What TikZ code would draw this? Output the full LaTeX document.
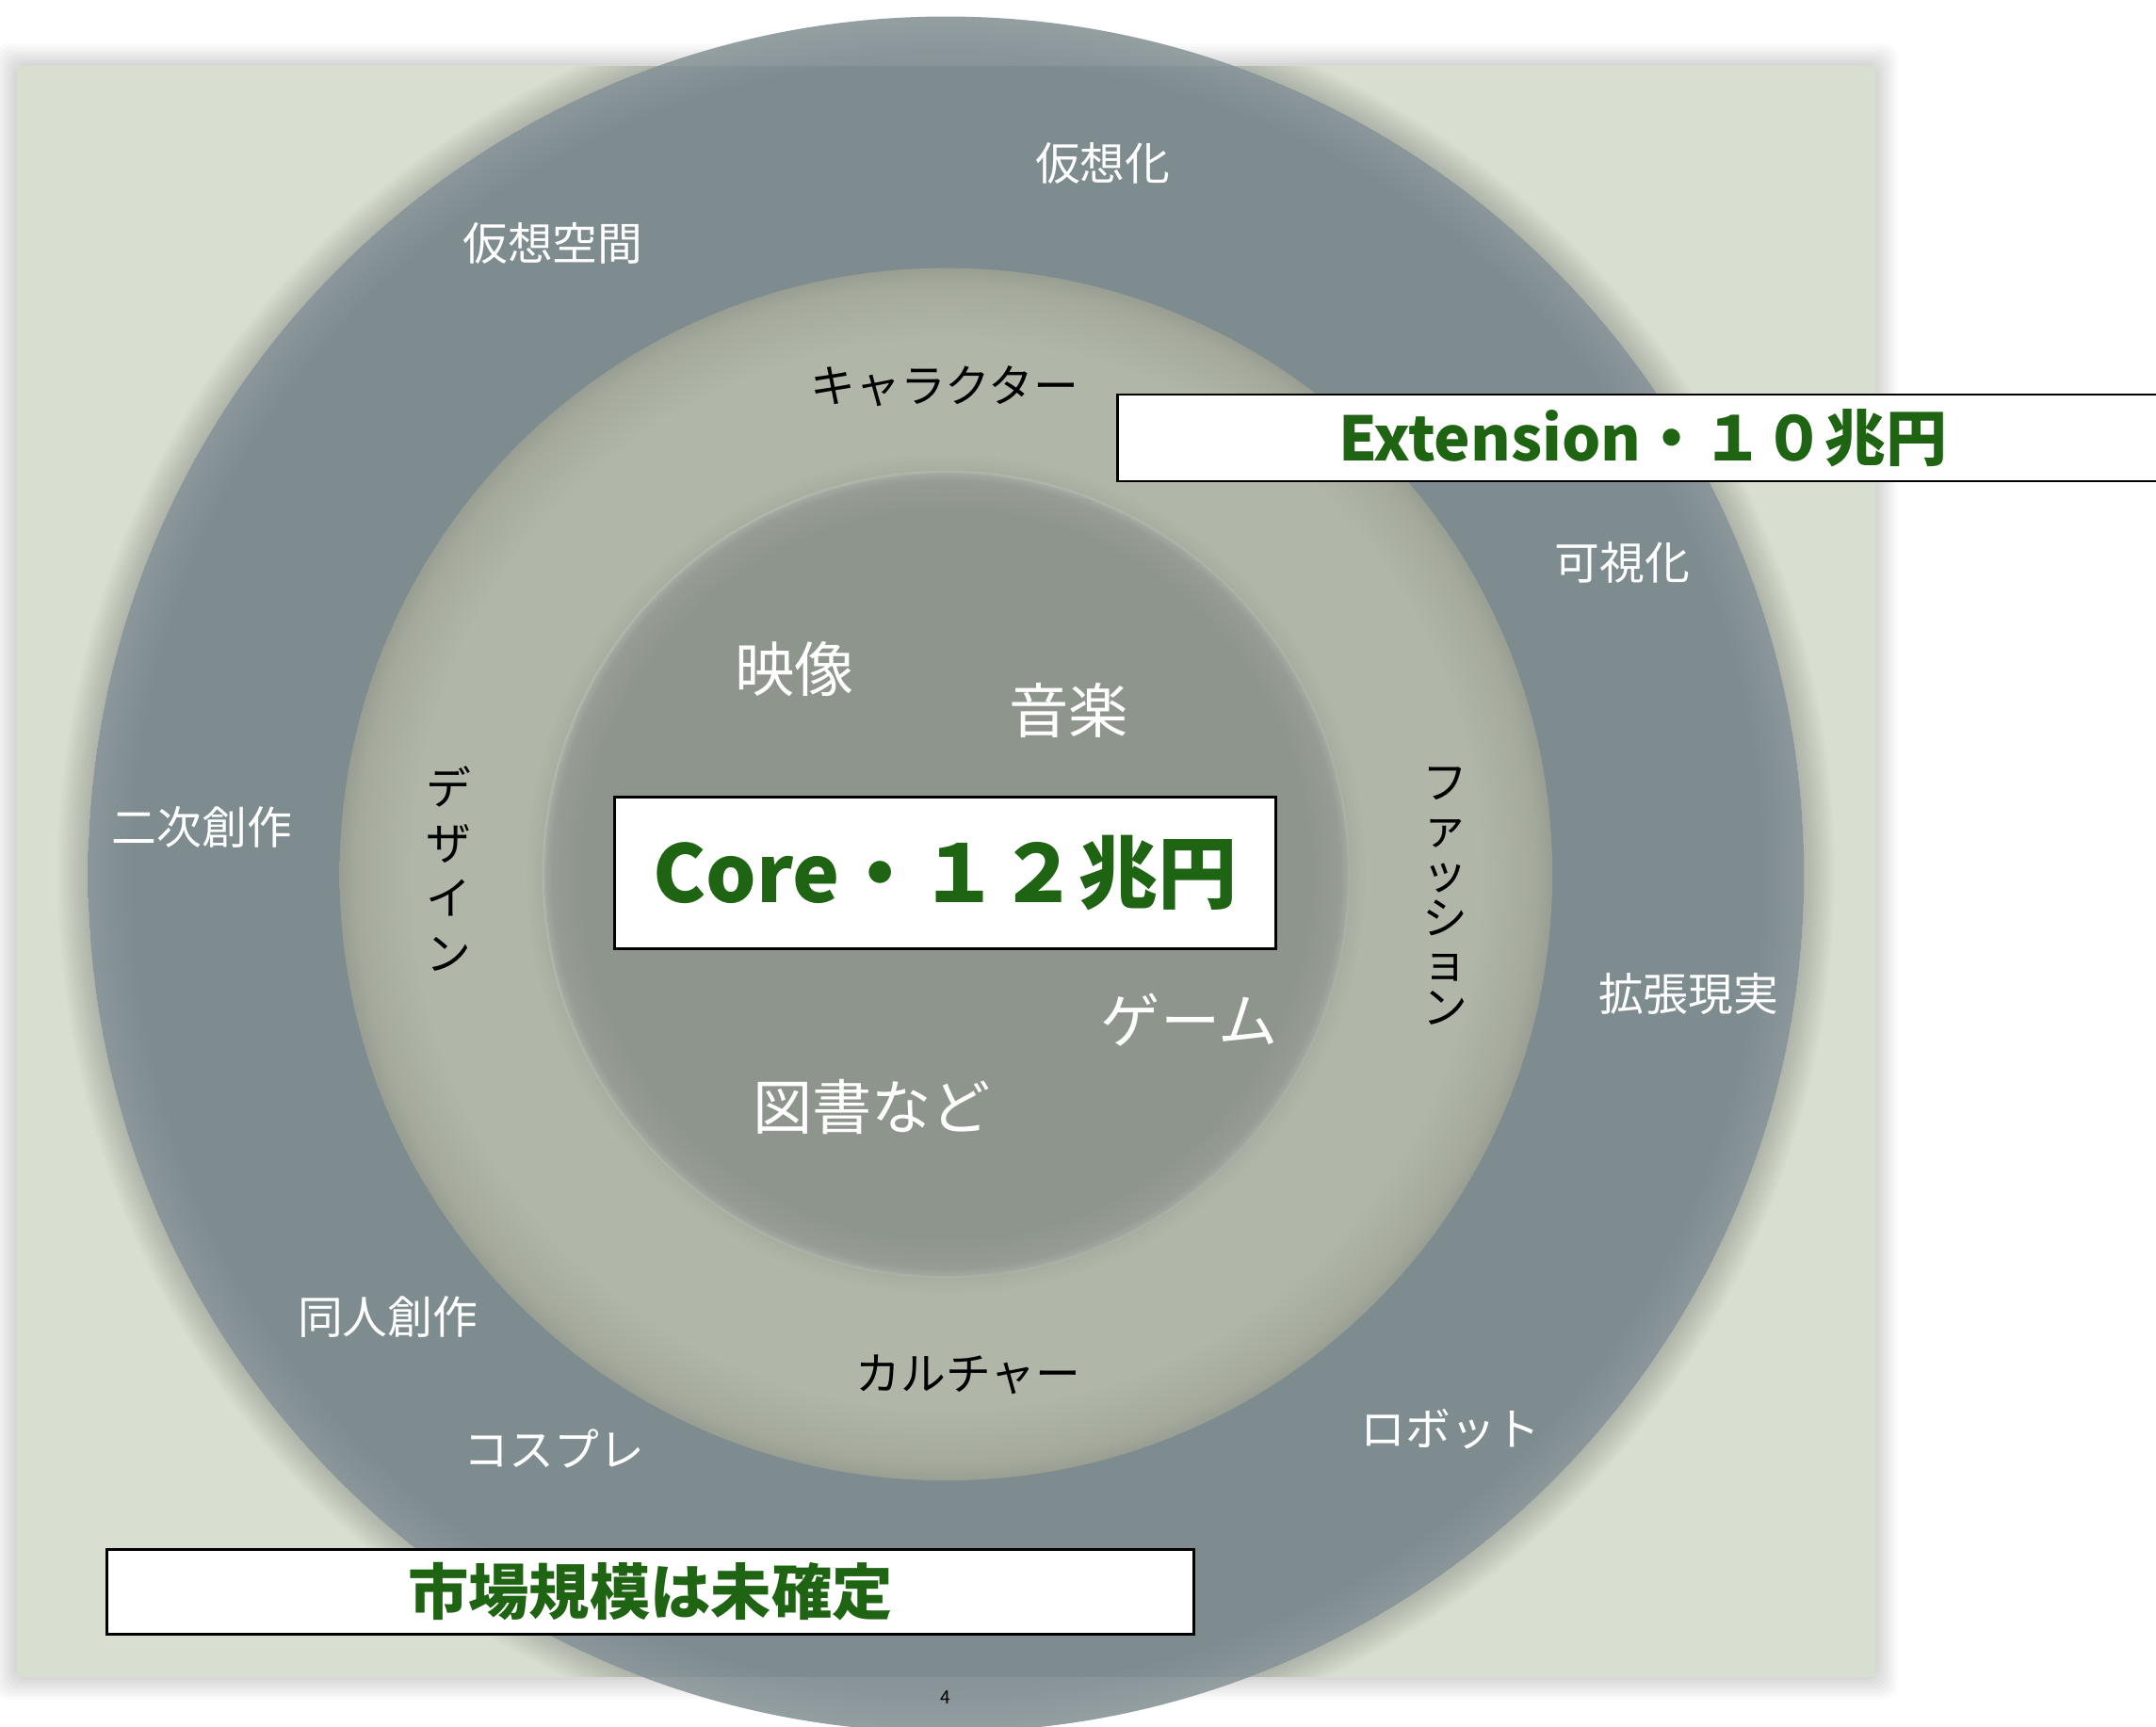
\documentclass[tikz,border=0pt]{standalone}
\usepackage{fontspec}
\setmainfont{Noto Sans CJK JP}
\definecolor{slidec}{RGB}{217,223,208}
\definecolor{ringc}{RGB}{126,139,143}
\definecolor{midc}{RGB}{176,182,168}
\definecolor{innc}{RGB}{142,149,140}
\definecolor{valgreen}{RGB}{30,100,18}
\pgfdeclareradialshading{outershade}{\pgfpoint{0bp}{0bp}}{color(0bp)=(ringc); color(23.7bp)=(ringc); color(25bp)=(ringc!90!white); color(50bp)=(ringc!90!white)}
\pgfdeclareradialshading{midshade}{\pgfpoint{0bp}{0bp}}{color(0bp)=(midc); color(22bp)=(midc); color(24.3bp)=(midc!93!black); color(25bp)=(midc!87!black); color(50bp)=(midc!87!black)}
\pgfdeclareradialshading{innshade}{\pgfpoint{0bp}{0bp}}{color(0bp)=(innc); color(22.5bp)=(innc); color(24.4bp)=(innc!93!white); color(24.85bp)=(innc!82!white); color(25bp)=(midc!95!white); color(50bp)=(midc!95!white)}
\newcommand\upx{0.14598mm}
\tikzset{
  ringlabel/.style={text=white, inner sep=0pt, font=\fontsize{13.6pt}{16pt}\selectfont},
  midlabel/.style={text=black, inner sep=0pt, font=\fontsize{13.6pt}{16pt}\selectfont},
  innlabel/.style={text=white, inner sep=0pt, font=\fontsize{18pt}{21pt}\selectfont},
  valbox/.style={draw=black, line width=0.8pt, fill=white, text=valgreen, inner sep=0pt},
}
\begin{document}
\begin{tikzpicture}[x=0.14598mm, y=-0.14598mm]
\useasboundingbox (0,0) rectangle (1568,1256);
\clip (0,0) rectangle (1568,1256);
\fill[white] (0,0) rectangle (1568,1256);
% slide shadow
\foreach \k in {2,4,...,16}{
  \fill[black, opacity=0.018, rounded corners=4pt] (12-\k,48-\k) rectangle (1364+\k,1220+\k);
}
\fill[slidec] (12,48) rectangle (1364,1220);
\coordinate (c) at (688,636);
% outer circle shadow on slide
\begin{scope}
  \clip (12,48) rectangle (1364,1220);
  \foreach \k in {2,4,...,22}{
    \fill[black, opacity=0.016, even odd rule] (c) circle (624+\k) (c) circle (624);
  }
\end{scope}
% outer ring
\shade[shading=outershade] (c) circle (624);
\begin{scope}
  \clip (c) circle (624);
  \fill[white, opacity=0.08] (0,0) rectangle (1568,48);
  \fill[white, opacity=0.08] (0,1220) rectangle (1568,1256);
\end{scope}
% middle ring
\shade[shading=midshade] (c) circle (441);
% inner circle soft shadow
\foreach \k in {3,6,...,12}{
  \fill[black, opacity=0.007, even odd rule] (c) circle (293+\k) (c) circle (293);
}
\shade[shading=innshade] (c) circle (293.5);

% outer ring labels
\node[ringlabel] (kasoka) at (802,119) {仮想化};
\node[ringlabel] (kasokukan) at (402,177) {仮想空間};
\node[ringlabel] (kashika) at (1180,409) {可視化};
\node[ringlabel] (niji) at (147,602) {二次創作};
\node[ringlabel] (kakucho) at (1228,723) {拡張現実};
\node[ringlabel] (dojin) at (282,958) {同人創作};
\node[ringlabel] (cosplay) at (403,1054) {コスプレ};
\node[ringlabel] (robot) at (1055,1040) {ロボット};

% middle ring labels
\node[midlabel] (chara) at (687,281) {キャラクター};
\node[midlabel] (culture) at (704,1000) {カルチャー};
\node[midlabel, align=center, font=\fontsize{13.6pt}{16.6pt}\selectfont] (design) at (326,632) {デ\\ザ\\イ\\ン};
\node[midlabel, align=center, font=\fontsize{13.6pt}{13.6pt}\selectfont] (fashion) at (1051,652) {フ\\ァ\\ッ\\シ\\ョ\\ン};

% inner labels
\node[innlabel] (eizo) at (578,487) {映像};
\node[innlabel] (ongaku) at (777,517) {音楽};
\node[innlabel] (game) at (865,742) {ゲーム};
\node[innlabel] (tosho) at (634,805) {図書など};

% value boxes
\node[valbox, minimum width=481*\upx, minimum height=110*\upx, font=\bfseries\fontsize{24pt}{28pt}\selectfont] (core) at (687.5,635) {Core・１２兆円};
\node[valbox, minimum width=764*\upx, minimum height=63*\upx, font=\bfseries\fontsize{18.5pt}{22pt}\selectfont] (ext) at (1195,318.5) {Extension・１０兆円};
\node[valbox, minimum width=790*\upx, minimum height=62*\upx, font=\bfseries\fontsize{18.3pt}{22pt}\selectfont] (undecided) at (473,1158) {市場規模は未確定};

% page number
\node[text=black, inner sep=0pt, font=\fontsize{5.5pt}{6pt}\selectfont] (pageno) at (688,1235) {4};
\end{tikzpicture}
\end{document}
